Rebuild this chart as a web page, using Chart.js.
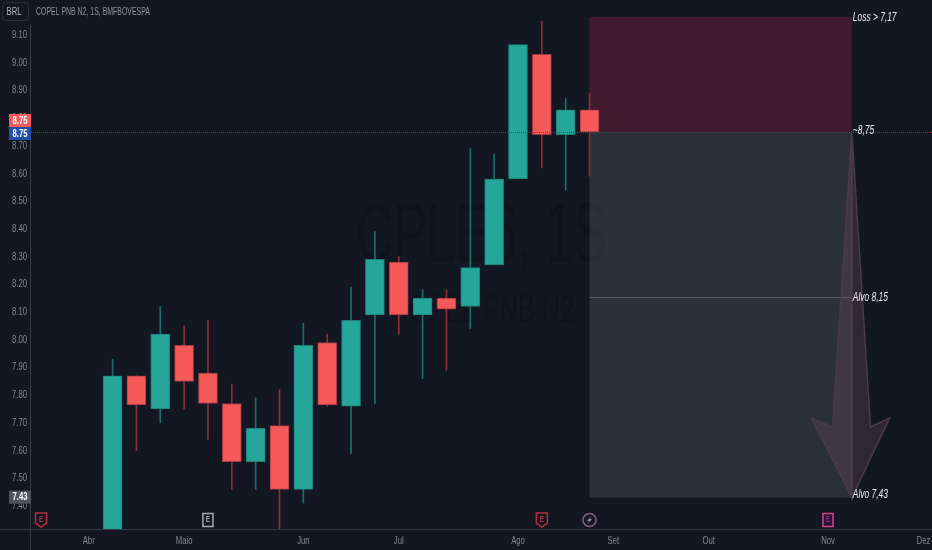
<!DOCTYPE html>
<html>
<head>
<meta charset="utf-8">
<title>CPLE6</title>
<script src="https://cdn.jsdelivr.net/npm/chart.js@4"></script>
<style>
  html, body { margin: 0; padding: 0; background: #131722; }
  canvas { display: block; }
</style>
</head>
<body>
<canvas id="chart" width="932" height="550"></canvas>
<script>
// weekly candles, x is the week index (0 = first candle on screen)
const weeks  = [0, 1, 2, 3, 4, 5, 6, 7, 8, 9, 10, 11, 12, 13, 14, 15, 16, 17, 18, 19, 20];
const opens  = [7.20, 7.87, 7.75, 7.98, 7.88, 7.77, 7.56, 7.69, 7.46, 7.99, 7.76, 8.09, 8.28, 8.09, 8.15, 8.12, 8.27, 8.58, 9.03, 8.74, 8.83];
const closes = [7.87, 7.765, 8.02, 7.85, 7.77, 7.56, 7.68, 7.46, 7.98, 7.765, 8.07, 8.29, 8.09, 8.15, 8.11, 8.26, 8.58, 9.065, 8.74, 8.83, 8.75];
const highs  = [7.93, 7.87, 8.12, 8.05, 8.07, 7.84, 7.79, 7.82, 8.06, 8.02, 8.19, 8.39, 8.30, 8.18, 8.18, 8.69, 8.67, 9.065, 9.15, 8.87, 8.89];
const lows   = [7.10, 7.60, 7.70, 7.75, 7.64, 7.46, 7.46, 7.30, 7.41, 7.76, 7.59, 7.77, 8.02, 7.86, 7.89, 8.04, 8.47, 8.58, 8.62, 8.54, 8.59];

const yTicks = [9.1, 9.0, 8.9, 8.8, 8.7, 8.6, 8.5, 8.4, 8.3, 8.2, 8.1, 8.0, 7.9, 7.8, 7.7, 7.6, 7.5, 7.4];
const monthWeeks  = [-1, 3, 8, 12, 17, 21, 25, 30, 34];
const monthLabels = ["Abr", "Maio", "Jun", "Jul", "Ago", "Set", "Out", "Nov", "Dez"];

// trade drawing
const boxStart = 20, boxEnd = 31;
const lossTop = 9.165, entry = 8.75, target1 = 8.155, target2 = 7.43;
const arrowLeft  = [[31, 8.75], [30.19, 7.685], [29.31, 7.717], [31, 7.43]];
const arrowRight = [[31, 8.75], [31.78, 7.685], [32.58, 7.717], [31, 7.43]];
const notes = [["Loss > 7,17", 9.162], ["~8,75", 8.755], ["Alvo 8,15", 8.152], ["Alvo 7,43", 7.442]];
const events = [[-3, "E", "#b5303f"], [4, "E", "#a7abb5"], [18, "E", "#b5303f"], [20, "bolt", "#8a5a86"], [30, "E", "#d2448f"]];

const SANS = '"Liberation Sans", sans-serif';
const wickColor = (i) => (closes[i] >= opens[i] ? "#1b6f6b" : "#8c2f3b");

// the original font is a condensed one, none is installed, so squeeze the text
const canvas = document.getElementById("chart");
const c2d = canvas.getContext("2d");
const plainFillText = c2d.fillText.bind(c2d);
let squeeze = 0.7;
c2d.fillText = function (text, px, py) {
  c2d.save();
  c2d.translate(px, py);
  c2d.scale(squeeze, 1);
  plainFillText(text, 0, 0);
  c2d.restore();
};

const tradeDrawing = {
  id: "tradeDrawing",
  beforeDatasetsDraw(chart) {
    const { ctx, scales: { x, y } } = chart;
    ctx.save();
    // watermark
    ctx.fillStyle = "#10131c";
    ctx.textAlign = "center";
    ctx.textBaseline = "alphabetic";
    ctx.font = "86px " + SANS;
    squeeze = 0.59;
    ctx.fillText("CPLE6, 1S", 482, 262);
    ctx.font = "39px " + SANS;
    squeeze = 0.65;
    ctx.fillText("COPEL PNB N2", 482, 322);
    squeeze = 0.7;
    // risk / reward boxes
    const x0 = x.getPixelForValue(boxStart), x1 = x.getPixelForValue(boxEnd);
    const yTop = y.getPixelForValue(lossTop), yEntry = y.getPixelForValue(entry);
    const yT1 = y.getPixelForValue(target1), yT2 = y.getPixelForValue(target2);
    ctx.fillStyle = "rgba(203,35,90,0.25)";
    ctx.fillRect(x0, yTop, x1 - x0, yEntry - yTop);
    ctx.fillStyle = "rgba(120,123,134,0.25)";
    ctx.fillRect(x0, yEntry, x1 - x0, yT2 - yEntry);
    ctx.strokeStyle = "#565963";
    ctx.lineWidth = 1;
    ctx.beginPath();
    ctx.moveTo(x0, Math.round(yT1) + 0.5);
    ctx.lineTo(x1, Math.round(yT1) + 0.5);
    ctx.stroke();
    ctx.restore();
  },
  afterDatasetsDraw(chart) {
    const { ctx, scales: { x, y }, chartArea } = chart;
    ctx.save();
    // entry line goes over the candles
    ctx.strokeStyle = "#8a2f42";
    ctx.lineWidth = 1;
    ctx.setLineDash([1, 1]);
    ctx.beginPath();
    ctx.moveTo(chartArea.left, Math.round(y.getPixelForValue(entry)) + 0.5);
    ctx.lineTo(chartArea.right, Math.round(y.getPixelForValue(entry)) + 0.5);
    ctx.stroke();
    ctx.setLineDash([]);

    const poly = (pts, fill) => {
      ctx.beginPath();
      pts.forEach((p, i) => {
        const px = x.getPixelForValue(p[0]), py = y.getPixelForValue(p[1]);
        if (i === 0) ctx.moveTo(px, py); else ctx.lineTo(px, py);
      });
      ctx.closePath();
      ctx.fillStyle = fill;
      ctx.fill();
      ctx.strokeStyle = "#4a3a4c";
      ctx.lineWidth = 1.5;
      ctx.stroke();
    };
    poly(arrowLeft, "rgba(110,75,95,0.3)");
    poly(arrowRight, "rgba(110,75,95,0.3)");

    // notes next to the box
    ctx.fillStyle = "#eceef2";
    ctx.font = "italic 12px " + SANS;
    ctx.textAlign = "left";
    ctx.textBaseline = "middle";
    notes.forEach((n) => ctx.fillText(n[0], x.getPixelForValue(boxEnd) + 1, y.getPixelForValue(n[1])));

    // event markers
    events.forEach((ev) => {
      const cx = x.getPixelForValue(ev[0]), cy = 520;
      ctx.strokeStyle = ev[2];
      ctx.lineWidth = 1.5;
      ctx.beginPath();
      if (ev[1] === "bolt") {
        ctx.arc(cx, cy, 6.5, 0, Math.PI * 2);
        ctx.stroke();
        ctx.fillStyle = "#a58aa5";
        ctx.beginPath();
        ctx.moveTo(cx + 2, cy - 4);
        ctx.lineTo(cx - 2.5, cy + 1);
        ctx.lineTo(cx - 0.3, cy + 1);
        ctx.lineTo(cx - 2, cy + 4);
        ctx.lineTo(cx + 2.5, cy - 1);
        ctx.lineTo(cx + 0.3, cy - 1);
        ctx.closePath();
        ctx.fill();
        return;
      }
      if (ev[2] === "#b5303f") {
        ctx.moveTo(cx - 5.5, cy - 7);
        ctx.lineTo(cx + 5.5, cy - 7);
        ctx.lineTo(cx + 5.5, cy + 3);
        ctx.lineTo(cx, cy + 7);
        ctx.lineTo(cx - 5.5, cy + 3);
        ctx.closePath();
      } else {
        ctx.rect(cx - 5, cy - 6.5, 10, 13);
      }
      if (ev[2] === "#d2448f") {
        ctx.fillStyle = "#2c1236";
        ctx.fill();
      }
      ctx.stroke();
      ctx.fillStyle = ev[2] === "#d2448f" ? "#8a2a80" : ev[2];
      ctx.font = "bold 9px " + SANS;
      ctx.textAlign = "center";
      ctx.fillText(ev[1], cx, cy);
    });
    ctx.restore();
  },
  afterDraw(chart) {
    const { ctx, chartArea, scales: { y } } = chart;
    ctx.save();
    // axis lines
    ctx.strokeStyle = "#363a45";
    ctx.lineWidth = 1;
    ctx.beginPath();
    ctx.moveTo(30.5, 24);
    ctx.lineTo(30.5, 550);
    ctx.moveTo(0, chartArea.bottom + 0.5);
    ctx.lineTo(932, chartArea.bottom + 0.5);
    ctx.stroke();
    // header
    ctx.strokeStyle = "#2a2e39";
    ctx.beginPath();
    ctx.roundRect(2.5, 2.5, 26, 18, 3);
    ctx.stroke();
    ctx.fillStyle = "#b2b5be";
    ctx.font = "11px " + SANS;
    ctx.textAlign = "center";
    ctx.textBaseline = "middle";
    ctx.fillText("BRL", 14, 12);
    ctx.fillStyle = "#8f929b";
    ctx.textAlign = "left";
    squeeze = 0.63;
    ctx.fillText("COPEL PNB N2, 1S, BMFBOVESPA", 36, 12);
    squeeze = 0.7;
    // price tags
    const tag = (val, top, bg, fg) => {
      ctx.fillStyle = bg;
      ctx.fillRect(9, top, 22, 13);
      ctx.fillStyle = fg;
      ctx.font = "bold 11px " + SANS;
      ctx.textAlign = "center";
      ctx.fillText(val, 20, top + 6.5);
    };
    tag("8.75", 114, "#f55a58", "#ffffff");
    tag("8.75", 127, "#1f4fa8", "#ffffff");
    tag("7.43", y.getPixelForValue(7.43) - 7, "#50535e", "#ffffff");
    ctx.restore();
  },
};

new Chart(canvas, {
  type: "bar",
  data: {
    datasets: [
      {
        // candle wicks
        data: weeks.map((w, i) => ({ x: w, y: [lows[i], highs[i]] })),
        backgroundColor: opens.map((o, i) => wickColor(i)),
        barThickness: 1,
        grouped: false,
        order: 2,
      },
      {
        // candle bodies
        data: weeks.map((w, i) => ({ x: w, y: [opens[i], closes[i]] })),
        backgroundColor: opens.map((o, i) => (closes[i] >= o ? "#26a69a" : "#f55a58")),
        borderColor: opens.map((o, i) => (closes[i] >= o ? "#1f7f78" : "#a23a44")),
        borderWidth: 1,
        borderSkipped: false,
        barThickness: 19,
        grouped: false,
        order: 1,
      },
    ],
  },
  plugins: [tradeDrawing],
  options: {
    responsive: false,
    animation: false,
    events: [],
    layout: { padding: 0 },
    plugins: { legend: { display: false }, tooltip: { enabled: false } },
    scales: {
      x: {
        type: "linear",
        offset: false,
        min: -3.42,
        max: 34.36,
        grid: { display: false, drawTicks: false },
        border: { display: false },
        afterBuildTicks(axis) {
          axis.ticks = monthWeeks.map((v) => ({ value: v }));
        },
        afterFit(axis) {
          axis.height = 21;
          axis.paddingLeft = axis.paddingRight = 0;
        },
        ticks: {
          autoSkip: false,
          maxRotation: 0,
          padding: 5,
          color: "#84878f",
          font: { family: SANS, size: 11 },
          callback: (v) => monthLabels[monthWeeks.indexOf(v)],
        },
      },
      y: {
        min: 7.317,
        max: 9.226,
        grid: { display: false, drawTicks: false },
        border: { display: false },
        afterBuildTicks(axis) {
          axis.ticks = yTicks.map((v) => ({ value: v }));
        },
        afterFit(axis) {
          axis.width = 31;
          axis.paddingTop = axis.paddingBottom = 0;
        },
        ticks: {
          autoSkip: false,
          padding: 4,
          color: "#84878f",
          font: { family: SANS, size: 11 },
          callback: (v) => v.toFixed(2),
        },
      },
    },
  },
});
</script>
</body>
</html>
